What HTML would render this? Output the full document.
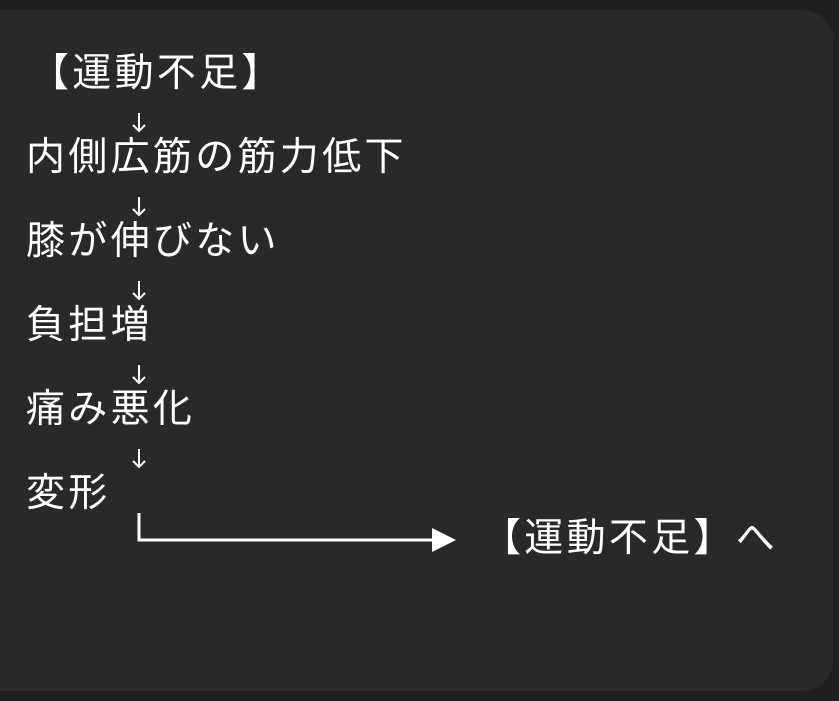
<!DOCTYPE html>
<html><head><meta charset="utf-8"><style>
body{margin:0;width:839px;height:701px;background:#1e1f21;overflow:hidden;position:relative;font-family:"Liberation Sans","Noto Sans CJK JP",sans-serif;color:#fff}
.card{position:absolute;left:-40px;top:10px;width:873px;height:681px;background:#28292b;border-radius:30px}
.t{position:absolute;font-size:39px;letter-spacing:3.3px;line-height:1;white-space:nowrap}
</style></head><body>
<div class="card"></div>
<div class="t" style="left:30px;top:54px">【運動不足】</div>
<div class="t" style="left:26px;top:138px">内側広筋の筋力低下</div>
<div class="t" style="left:26px;top:222px">膝が伸びない</div>
<div class="t" style="left:26px;top:306px">負担増</div>
<div class="t" style="left:26px;top:390px">痛み悪化</div>
<div class="t" style="left:26px;top:474px">変形</div>
<svg width="839" height="701" style="position:absolute;left:0;top:0">
<g fill="none" stroke="#fff" stroke-width="2">
<path d="M139 113V131M133 125L139 131L145 125"/>
<path d="M139 197V215M133 209L139 215L145 209"/>
<path d="M139 281V299M133 293L139 299L145 293"/>
<path d="M139 365V383M133 377L139 383L145 377"/>
<path d="M139 449V467M133 461L139 467L145 461"/>
</g>
<polyline points="139,513 139,540 434,540" fill="none" stroke="#fff" stroke-width="3"/>
<polygon points="432,528 456,540 432,552" fill="#fff"/>
</svg>
<div class="t" style="left:482px;top:519px">【運動不足】へ</div>
</body></html>
